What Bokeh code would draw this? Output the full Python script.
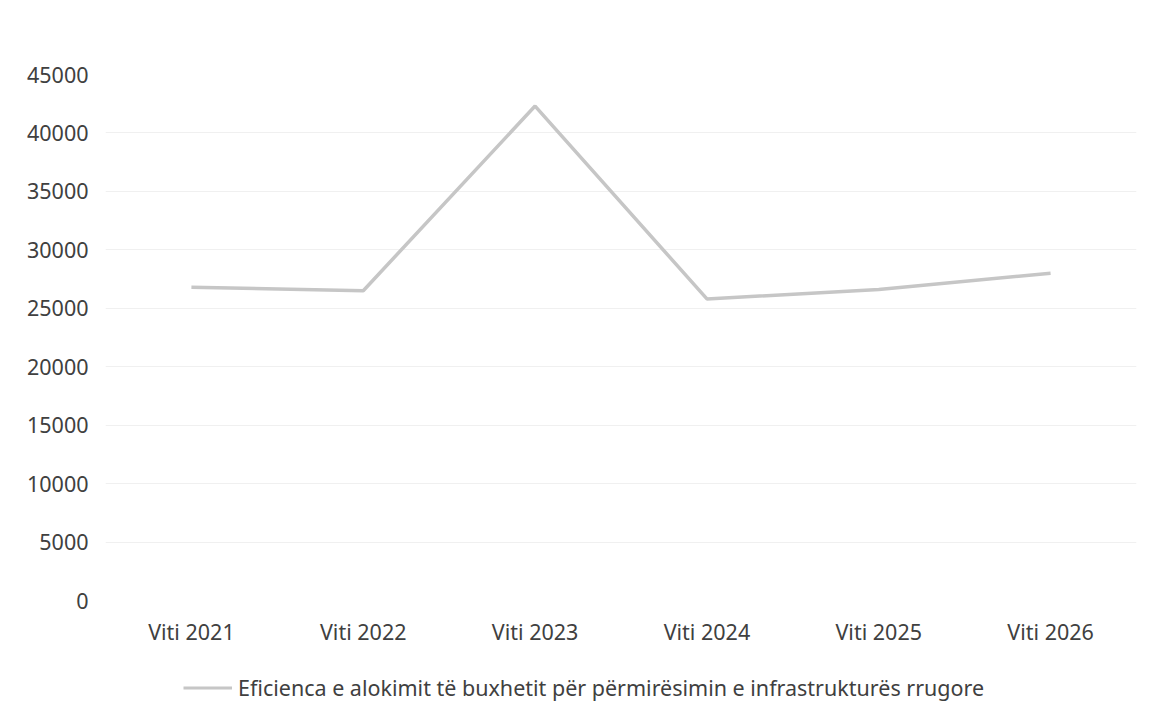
from bokeh.plotting import figure
from bokeh.layouts import column
from bokeh.models import Range1d, Legend, LegendItem, SingleIntervalTicker, NumeralTickFormatter
from bokeh.embed import file_html
from bokeh.resources import INLINE

categories = ["Viti 2021", "Viti 2022", "Viti 2023", "Viti 2024", "Viti 2025", "Viti 2026"]
values = [26800, 26500, 42300, 25800, 26600, 28000]
series_name = "Eficienca e alokimit të buxhetit për përmirësimin e infrastrukturës rrugore"

FONT = "Noto Sans"
TXT = "#404040"
FS = "21.5px"
LINE_COLOR = "#c6c6c6"

p = figure(x_range=categories, y_range=Range1d(0, 45000),
           frame_width=1031, frame_height=526,
           min_border_left=105, min_border_top=74, min_border_right=11, min_border_bottom=50,
           output_backend="svg", toolbar_location=None)

r = p.line(categories, values, line_color=LINE_COLOR, line_width=3.5)

p.outline_line_color = None
p.xgrid.grid_line_color = None
p.ygrid.grid_line_color = "#f0f0f0"
p.ygrid.grid_line_width = 1

p.yaxis.ticker = SingleIntervalTicker(interval=5000)
p.yaxis.formatter = NumeralTickFormatter(format="0")
for ax in (p.xaxis[0], p.yaxis[0]):
    ax.axis_line_color = None
    ax.major_tick_line_color = None
    ax.minor_tick_line_color = None
    ax.major_tick_out = 0
    ax.major_tick_in = 0
    ax.major_label_text_font = FONT
    ax.major_label_text_font_size = FS
    ax.major_label_text_color = TXT
    ax.axis_label_standoff = 0
p.yaxis.major_label_standoff = 13
p.xaxis.major_label_standoff = 16

# legend strip below the chart
p2 = figure(x_range=p.x_range, y_range=Range1d(-2, -1),
            width=1147, height=67, x_axis_type=None, y_axis_type=None,
            min_border=0, output_backend="svg", toolbar_location=None)
p2.outline_line_color = None
p2.grid.visible = False
r2 = p2.line(categories, values, line_color=LINE_COLOR, line_width=3)

legend = Legend(items=[LegendItem(label=series_name, renderers=[r2])],
                location=(78, 15), orientation="horizontal",
                label_text_font=FONT, label_text_font_size=FS, label_text_color=TXT,
                glyph_width=49, glyph_height=25, label_height=25,
                border_line_color=None, background_fill_alpha=0,
                margin=0, padding=0, label_standoff=6)
p2.add_layout(legend, "center")

layout = column(p, p2, spacing=0)
open("out.html", "w").write(file_html(layout, INLINE))
